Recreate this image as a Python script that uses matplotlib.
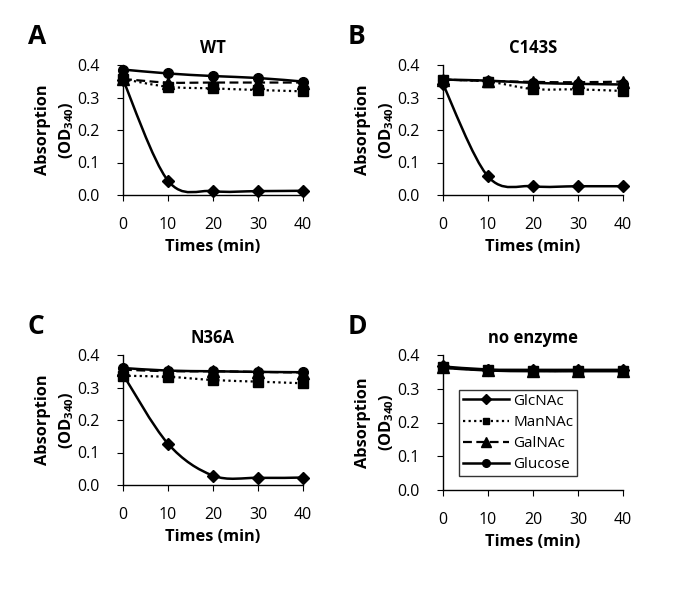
import numpy as np
import matplotlib
matplotlib.use("Agg")
import matplotlib.pyplot as plt
from matplotlib.path import Path
from matplotlib.patches import PathPatch
from matplotlib.lines import Line2D

plt.rcParams['font.family'] = ['Open Sans', 'DejaVu Sans']
plt.rcParams['mathtext.fontset'] = 'custom'
plt.rcParams['mathtext.rm'] = 'Open Sans'
plt.rcParams['mathtext.bf'] = 'Open Sans:bold'

# time points (min)
times = [0, 10, 20, 30, 40]
series = ['GlcNAc', 'ManNAc', 'GalNAc', 'Glucose']
titles = ['WT', 'C143S', 'N36A', 'no enzyme']
letters = ['A', 'B', 'C', 'D']

# OD340 readings per panel, order: GlcNAc, ManNAc, GalNAc, Glucose
wt = [[0.355, 0.044, 0.012, 0.012, 0.013],
      [0.357, 0.333, 0.328, 0.323, 0.319],
      [0.357, 0.346, 0.346, 0.346, 0.346],
      [0.386, 0.374, 0.366, 0.360, 0.349]]
c143s = [[0.341, 0.057, 0.027, 0.027, 0.027],
         [0.355, 0.349, 0.326, 0.325, 0.320],
         [0.355, 0.351, 0.348, 0.347, 0.349],
         [0.355, 0.352, 0.345, 0.342, 0.340]]
n36a = [[0.340, 0.127, 0.029, 0.022, 0.023],
        [0.336, 0.333, 0.323, 0.318, 0.313],
        [0.355, 0.350, 0.350, 0.348, 0.346],
        [0.360, 0.352, 0.350, 0.348, 0.347]]
no_enz = [[0.366, 0.357, 0.356, 0.356, 0.356],
          [0.363, 0.355, 0.353, 0.353, 0.354],
          [0.363, 0.355, 0.353, 0.353, 0.354],
          [0.362, 0.354, 0.352, 0.352, 0.352]]
panels = [wt, c143s, n36a, no_enz]

styles = {
    'GlcNAc': dict(ls='-', marker='D', ms=6.5),
    'ManNAc': dict(ls=(0, (1, 1.5)), marker='s', ms=6.5),
    'GalNAc': dict(ls=(0, (4, 2)), marker='^', ms=8),
    'Glucose': dict(ls='-', marker='o', ms=7),
}


def smooth_path(x, y):
    # Excel-like smoothed line: cubic bezier through the points
    x = np.asarray(x, float)
    y = np.asarray(y, float)
    n = len(x)
    verts = [(x[0], y[0])]
    codes = [Path.MOVETO]
    for i in range(n - 1):
        i0 = max(i - 1, 0)
        i3 = min(i + 2, n - 1)
        c1 = (x[i] + (x[i + 1] - x[i0]) / 6, y[i] + (y[i + 1] - y[i0]) / 6)
        c2 = (x[i + 1] - (x[i3] - x[i]) / 6, y[i + 1] - (y[i3] - y[i]) / 6)
        verts += [c1, c2, (x[i + 1], y[i + 1])]
        codes += [Path.CURVE4] * 3
    return Path(verts, codes)


fig = plt.figure(figsize=(6.8, 5.9), dpi=100)
# axes boxes in pixels: left, top, right, bottom
px = [(123, 65, 303, 195), (443, 65, 623, 195), (123, 355, 303, 485), (443, 355, 623, 490)]

for k, data in enumerate(panels):
    l, t, r, b = px[k]
    h = b - t
    ax = fig.add_axes([l / 680, (590 - b) / 590, (r - l) / 680, h / 590])
    order = [1, 2, 0, 3]
    for j in order:
        name = series[j]
        st = styles[name]
        patch = PathPatch(smooth_path(times, data[j]), fill=False, edgecolor='black',
                          lw=1.8 if st['ls'] == '-' else 1.6, linestyle=st['ls'],
                          clip_on=False, zorder=2 + j)
        ax.add_patch(patch)
        ax.plot(times, data[j], linestyle='none', marker=st['marker'], ms=st['ms'],
                color='black', clip_on=False, zorder=3 + j)
    ax.set_xlim(0, 40)
    ax.set_ylim(0, 0.4)
    ax.set_xticks(times)
    ax.set_yticks([0, 0.1, 0.2, 0.3, 0.4])
    ax.set_yticklabels(['0.0', '0.1', '0.2', '0.3', '0.4'])
    for s in ['top', 'right']:
        ax.spines[s].set_visible(False)
    for s in ['left', 'bottom']:
        ax.spines[s].set_linewidth(1.0)
    ax.tick_params(axis='x', direction='out', length=4, pad=12, labelsize=11.5)
    ax.tick_params(axis='y', direction='out', length=4, pad=13, labelsize=11.5)

    # labels placed by hand, like the original layout
    ax.text(-0.444, 0.5, 'Absorption', transform=ax.transAxes, rotation=90,
            fontsize=11.8, fontweight='bold', ha='center', va='center')
    ax.text(-0.311, 0.5, '(OD$_{\\mathbf{340}}$)', transform=ax.transAxes, rotation=90,
            fontsize=11.8, fontweight='bold', ha='center', va='center')
    ax.text(0.5, -52 / h, 'Times (min)', transform=ax.transAxes,
            fontsize=11.8, fontweight='bold', ha='center', va='center')
    ax.text(0.5, 1 + 17 / h, titles[k], transform=ax.transAxes,
            fontsize=12, fontweight='bold', ha='center', va='center')
    ax.text(-0.53, 1 + 28 / h, letters[k], transform=ax.transAxes, fontsize=19,
            fontweight='bold', va='center', ha='left')

    if k == 3:
        handles = []
        for name in series:
            st = styles[name]
            handles.append(Line2D([], [], color='black', linestyle=st['ls'],
                                  lw=1.8 if st['ls'] == '-' else 1.6,
                                  marker=st['marker'], ms=st['ms'] - 1.5))
        leg = ax.legend(handles, series, loc='lower left', bbox_to_anchor=(0.09, 0.104),
                        fontsize=11, frameon=True, fancybox=False, edgecolor='black',
                        handlelength=3.0, handletextpad=0.3, borderpad=0.25,
                        labelspacing=0.4, borderaxespad=0, numpoints=1)
        leg.get_frame().set_linewidth(1.0)

fig.savefig('out.png', dpi=100)
